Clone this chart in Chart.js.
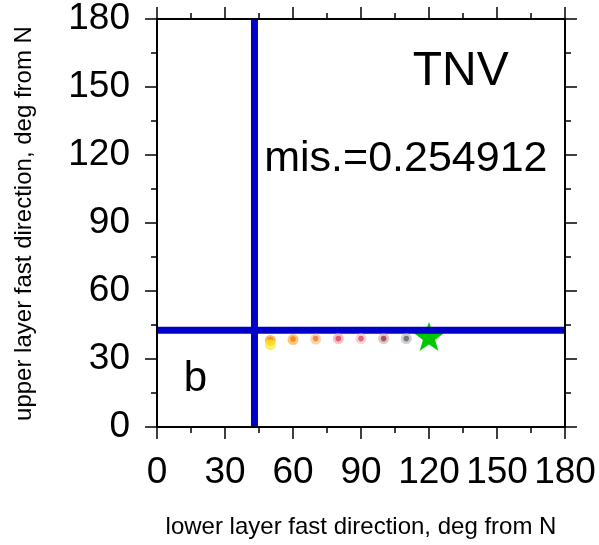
<!DOCTYPE html>
<html>
<head>
<meta charset="utf-8">
<script src="https://cdn.jsdelivr.net/npm/chart.js@4.4.1/dist/chart.umd.min.js"></script>
<style>
  html, body { margin: 0; padding: 0; background: #fff; }
  #wrap { width: 599px; height: 545px; }
</style>
</head>
<body>
<div id="wrap"><canvas id="c"></canvas></div>
<script>
// tick marks, degrees
const majorTicks = [0, 30, 60, 90, 120, 150, 180];
const minorTicks = [15, 45, 75, 105, 135, 165];

// picked lower / upper fast directions (blue cross-hair)
const bestLower = 43;
const bestUpper = 42.7;

// green star
const starX = [120];
const starY = [39.3];

// misfit points along the lower-layer direction
const dotX = [50, 60, 70, 80, 90, 100, 110];
const dotY = [38.5, 38.8, 39, 39, 39, 39, 39];
const dotColors = ['#f07010', '#ea5018', '#e84428', '#d82034', '#d02c40', '#842030', '#44404c'];

// soft halo around each point
const haloX = [50, 50, 60, 70, 80, 90, 100, 110];
const haloY = [38.2, 36.3, 38.6, 38.8, 39, 39, 39, 39];
const haloColors = ['rgba(250,160,30,0.7)', 'rgba(255,235,30,0.7)', 'rgba(250,170,50,0.65)',
  'rgba(250,185,110,0.6)', 'rgba(240,140,150,0.55)', 'rgba(240,165,175,0.5)',
  'rgba(200,140,150,0.5)', 'rgba(165,165,170,0.55)'];

const FONT = "'Liberation Sans', Helvetica, Arial, sans-serif";
const yTitle = 'upper layer fast direction, deg from N';

function makeStar(r, color) {
  const c = document.createElement('canvas');
  c.width = c.height = 2 * r + 2;
  const g = c.getContext('2d');
  g.fillStyle = color;
  g.beginPath();
  for (let i = 0; i < 10; i++) {
    const a = -Math.PI / 2 + i * Math.PI / 5;
    const rr = i % 2 ? r * 0.4 : r;
    g.lineTo(r + 1 + rr * Math.cos(a), r + 1 + rr * Math.sin(a));
  }
  g.closePath();
  g.fill();
  return c;
}

// frame with outward ticks on all four sides
const framePlugin = {
  id: 'frame',
  afterDatasetsDraw(chart) {
    const ctx = chart.ctx, a = chart.chartArea;
    const xs = chart.scales.x, ys = chart.scales.y;
    ctx.save();
    ctx.strokeStyle = '#000';
    ctx.lineWidth = 2;
    ctx.strokeRect(a.left, a.top, a.right - a.left, a.bottom - a.top);
    ctx.lineWidth = 1.5;
    ctx.beginPath();
    const tick = (v, len) => {
      const px = xs.getPixelForValue(v), py = ys.getPixelForValue(v);
      ctx.moveTo(px, a.bottom); ctx.lineTo(px, a.bottom + len);
      ctx.moveTo(px, a.top); ctx.lineTo(px, a.top - len);
      ctx.moveTo(a.left, py); ctx.lineTo(a.left - len, py);
      ctx.moveTo(a.right, py); ctx.lineTo(a.right + len, py);
    };
    majorTicks.forEach(v => tick(v, 12));
    minorTicks.forEach(v => tick(v, 6));
    ctx.stroke();

    // labels inside the panel
    ctx.fillStyle = '#000';
    ctx.textAlign = 'center';
    ctx.textBaseline = 'alphabetic';
    ctx.font = '48px ' + FONT;
    ctx.fillText('TNV', xs.getPixelForValue(134), ys.getPixelForValue(151));
    ctx.font = '43px ' + FONT;
    ctx.fillText('mis.=0.254912', xs.getPixelForValue(109.8), ys.getPixelForValue(112.8));
    ctx.font = '42px ' + FONT;
    ctx.fillText('b', xs.getPixelForValue(16.9), ys.getPixelForValue(15.7));

    // y axis title, rotated
    ctx.translate(31, (a.top + a.bottom) / 2 + 0.5);
    ctx.rotate(-Math.PI / 2);
    ctx.font = '24px ' + FONT;
    ctx.fillText(yTitle, 0, 0);
    ctx.restore();
  }
};

const pts = (xs, ys) => xs.map((x, i) => ({ x: x, y: ys[i] }));

new Chart(document.getElementById('c'), {
  type: 'scatter',
  data: {
    datasets: [
      { data: pts(haloX, haloY), pointRadius: 5.5, backgroundColor: haloColors, borderWidth: 0 },
      { data: pts(dotX, dotY), pointRadius: 2.8, backgroundColor: dotColors, borderWidth: 0 },
      { data: [{ x: 0, y: bestUpper }, { x: 180, y: bestUpper }], showLine: true,
        borderColor: '#0000c8', borderWidth: 7, pointRadius: 0, clip: 0 },
      { data: [{ x: bestLower, y: 0 }, { x: bestLower, y: 180 }], showLine: true,
        borderColor: '#0000c8', borderWidth: 7, pointRadius: 0, clip: 0 },
      { data: pts(starX, starY), pointStyle: makeStar(16, '#00c800'), pointRadius: 16 }
    ]
  },
  options: {
    responsive: true,
    maintainAspectRatio: false,
    animation: false,
    layout: { padding: { top: 19, right: 34, left: 0, bottom: 0 } },
    plugins: { legend: { display: false }, tooltip: { enabled: false } },
    scales: {
      x: {
        type: 'linear', min: 0, max: 180,
        afterBuildTicks: s => { s.ticks = majorTicks.map(v => ({ value: v })); },
        afterFit: s => { s.height = 118; s.paddingLeft = 0; s.paddingRight = 0; },
        grid: { display: false, drawTicks: false },
        border: { display: false },
        ticks: { color: '#000', font: { family: FONT, size: 37 }, padding: 24, maxRotation: 0, autoSkip: false },
        title: { display: true, text: 'lower layer fast direction, deg from N', color: '#000',
          font: { family: FONT, size: 24 }, padding: { top: 0, bottom: 3 } }
      },
      y: {
        type: 'linear', min: 0, max: 180,
        afterBuildTicks: s => { s.ticks = majorTicks.map(v => ({ value: v })); },
        afterFit: s => { s.width = 157; s.paddingTop = 0; s.paddingBottom = 0; },
        grid: { display: false, drawTicks: false },
        border: { display: false },
        ticks: { color: '#000', font: { family: FONT, size: 37 }, padding: 27, autoSkip: false },
        title: { display: false }
      }
    }
  },
  plugins: [framePlugin]
});
</script>
</body>
</html>
